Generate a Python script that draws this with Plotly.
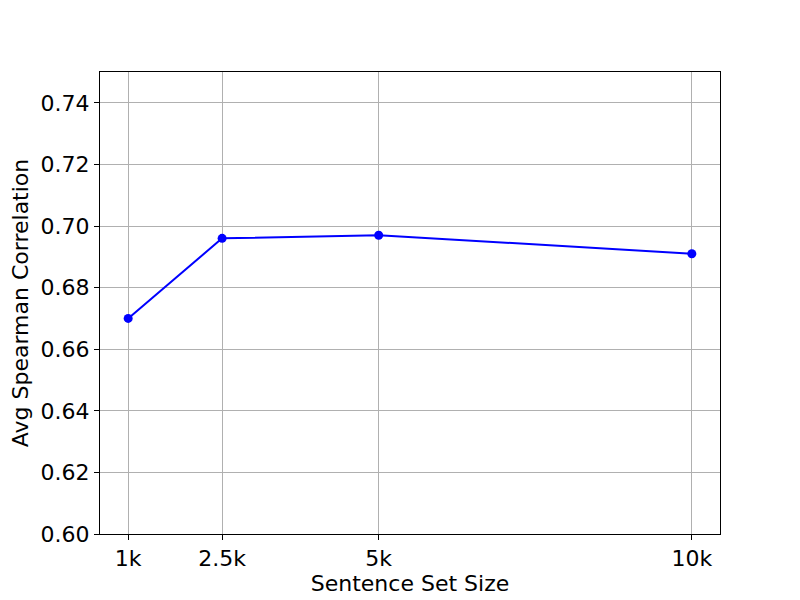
import plotly.graph_objects as go

sizes_k = [1, 2.5, 5, 10]
tick_labels = ["1k", "2.5k", "5k", "10k"]
avg_spearman = [0.670, 0.696, 0.697, 0.691]
y_ticks = [0.60, 0.62, 0.64, 0.66, 0.68, 0.70, 0.72, 0.74]

fig = go.Figure(
    go.Scatter(
        x=sizes_k,
        y=avg_spearman,
        mode="lines+markers",
        line={"color": "blue", "width": 2},
        marker={"color": "blue", "size": 9},
    )
)

axis_common = dict(
    showline=True,
    linecolor="black",
    linewidth=1,
    mirror=True,
    showgrid=True,
    gridcolor="#b0b0b0",
    gridwidth=1,
    ticks="outside",
    ticklen=5,
    tickcolor="black",
    zeroline=False,
    tickfont={"size": 22, "color": "black"},
    title_font={"size": 22, "color": "black"},
)

fig.update_xaxes(
    range=[0.55, 10.45],
    tickvals=sizes_k,
    ticktext=tick_labels,
    title_text="Sentence Set Size",
    title_standoff=4,
    **axis_common,
)
fig.update_yaxes(
    range=[0.60, 0.75],
    tickvals=y_ticks,
    tickformat=".2f",
    title_text="Avg Spearman Correlation",
    title_standoff=6,
    **axis_common,
)

# page body has an 8px margin, so offset the figure margins by that much
fig.update_layout(
    width=800,
    height=600,
    paper_bgcolor="white",
    plot_bgcolor="white",
    font={"family": "DejaVu Sans", "color": "black"},
    margin={"l": 92, "r": 88, "t": 64, "b": 74},
    showlegend=False,
)

fig.write_html("out.html")
